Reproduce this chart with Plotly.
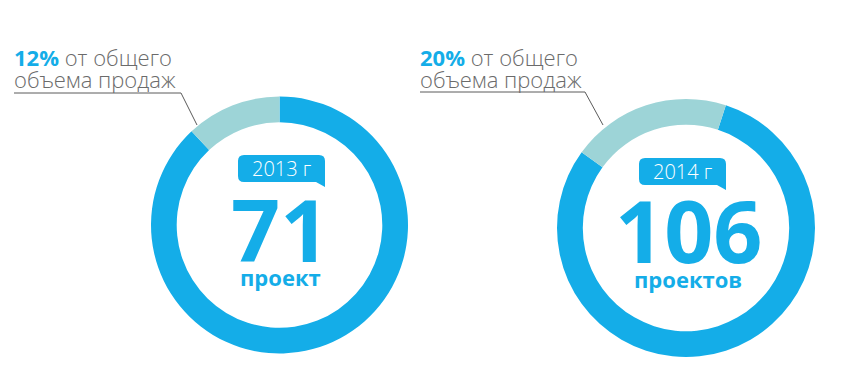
import plotly.graph_objects as go

W, H = 849, 386

years = ["2013 г", "2014 г"]
share_pct = [12, 20]          # % от общего объема продаж
rest_pct = [88, 80]
projects = [71, 106]
project_words = ["проект", "проектов"]
slice_labels = ["Остальное", "Доля"]

BLUE = "#14ADE8"
TEAL = "#9DD4D7"
GREY_TXT = "#6b6b6b"

# pixel geometry of each donut (cx, cy, r) and start rotation
geo = [(279.5, 225, 128.5, 0), (686, 228, 129, 18)]

fig = go.Figure()

for i in range(2):
    cx, cy, r, rot = geo[i]
    fig.add_trace(go.Pie(
        values=[rest_pct[i], share_pct[i]],
        labels=slice_labels,
        hole=0.80,
        sort=False,
        direction="clockwise",
        rotation=rot,
        marker=dict(colors=[BLUE, TEAL], line=dict(width=0)),
        textinfo="none",
        hoverinfo="skip",
        showlegend=False,
        domain=dict(x=[(cx - r) / W, (cx + r) / W],
                    y=[1 - (cy + r) / H, 1 - (cy - r) / H]),
    ))

fig.update_xaxes(range=[0, W], visible=False, fixedrange=True)
fig.update_yaxes(range=[H, 0], visible=False, fixedrange=True)
fig.add_trace(go.Scatter(x=[0], y=[0], mode="markers", marker=dict(opacity=0),
                         showlegend=False, hoverinfo="skip"))

shapes = []
annotations = []

# callouts
callouts = [
    dict(tx=12, ty=57, line=[(14, 93), (181, 93), (197, 125)]),
    dict(tx=418, ty=57, line=[(420, 92), (585, 92), (603, 125)]),
]
for i, c in enumerate(callouts):
    pts = c["line"]
    path = "M " + " L ".join(f"{x},{y}" for x, y in pts)
    shapes.append(dict(type="path", path=path, xref="x", yref="y",
                       line=dict(color="#5a5a5a", width=1)))
    annotations.append(dict(
        x=c["tx"], y=c["ty"], xref="x", yref="y", xanchor="left", yanchor="middle",
        showarrow=False,
        text=f"<span style='color:{BLUE};font-weight:700'>{share_pct[i]}%</span> от общего",
        font=dict(family="Open Sans", size=22, color=GREY_TXT, weight=300),
    ))
    annotations.append(dict(
        x=c["tx"], y=c["ty"] + 22, xref="x", yref="y", xanchor="left", yanchor="middle",
        showarrow=False, text="объема продаж",
        font=dict(family="Open Sans", size=22, color=GREY_TXT, weight=300),
    ))

# bubbles + center texts
bubbles = [(238, 155, 325, 182), (639, 158, 726, 185)]
for i, (x0, y0, x1, y1) in enumerate(bubbles):
    rr = 6
    path = (f"M {x0+rr},{y0} L {x1-rr},{y0} Q {x1},{y0} {x1},{y0+rr} "
            f"L {x1},{y1+5} L {x1-9},{y1} L {x0+rr},{y1} Q {x0},{y1} {x0},{y1-rr} "
            f"L {x0},{y0+rr} Q {x0},{y0} {x0+rr},{y0} Z")
    shapes.append(dict(type="path", path=path, xref="x", yref="y",
                       fillcolor=BLUE, line=dict(width=0)))
    annotations.append(dict(
        x=(x0 + x1) / 2, y=(y0 + y1) / 2, xref="x", yref="y",
        showarrow=False, text=years[i],
        font=dict(family="Open Sans", size=20, color="white", weight=300),
    ))

num_pos = [(280, 228), (689, 229)]
word_pos = [(280, 277), (688, 279)]
for i in range(2):
    annotations.append(dict(
        x=num_pos[i][0], y=num_pos[i][1], xref="x", yref="y", showarrow=False,
        text=str(projects[i]),
        font=dict(family="Open Sans", size=86, color=BLUE, weight=700),
    ))
    annotations.append(dict(
        x=word_pos[i][0], y=word_pos[i][1], xref="x", yref="y", showarrow=False,
        text=project_words[i],
        font=dict(family="Open Sans", size=22, color=BLUE, weight=700),
    ))

fig.update_layout(
    width=W, height=H,
    margin=dict(l=0, r=0, t=0, b=0),
    paper_bgcolor="white", plot_bgcolor="white",
    shapes=shapes, annotations=annotations,
)

fig.write_html("out.html", config={"displayModeBar": False},
               post_script="document.body.style.margin='0';document.body.style.overflow='hidden';")
